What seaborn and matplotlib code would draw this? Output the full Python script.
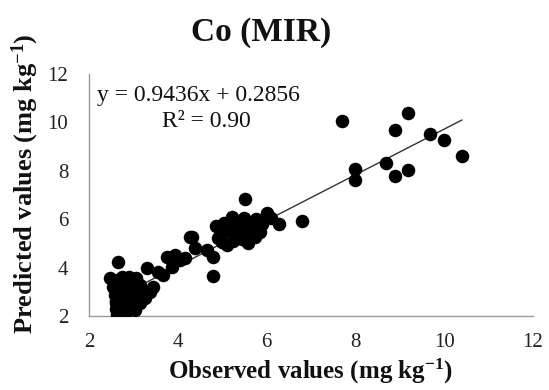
import matplotlib
matplotlib.use("Agg")
import matplotlib.pyplot as plt
import seaborn as sns
import pandas as pd
import numpy as np

# Observed / predicted values (mg kg-1)
observed = [
    2.62, 2.66, 2.70, 2.60, 2.75, 2.85, 2.95, 3.04, 2.68, 2.80, 2.90, 2.58, 2.72, 2.85,
    3.00, 3.10, 3.26, 2.62, 2.78, 2.92, 3.05, 3.20, 3.37, 2.70, 2.85, 3.00, 3.15, 3.44,
    2.47, 2.65, 2.89, 2.75, 3.05, 2.66, 3.30, 2.55, 2.60, 2.95, 2.80, 3.15,
    3.67, 3.75, 3.90, 4.05, 3.86, 3.94, 4.16, 4.27, 4.31, 4.39, 4.65, 4.80, 4.80, 3.55,
    4.87, 4.91, 5.10, 5.59, 5.85, 5.74, 5.21, 5.48, 5.51, 6.00, 6.28, 6.79, 5.00, 5.15,
    5.30, 5.40, 5.05, 5.25, 5.45, 5.60, 5.35, 5.65, 5.90, 5.50, 5.20, 5.00, 5.75, 6.10,
    7.70, 9.18, 8.90, 9.68, 9.99, 10.40, 8.70, 7.99, 7.99, 8.90, 9.18,
]
predicted = [
    2.04, 2.25, 2.40, 2.55, 2.20, 2.35, 2.45, 2.25, 2.70, 2.60, 2.75, 2.85, 2.95, 2.90,
    2.85, 2.70, 2.73, 3.10, 3.15, 3.05, 3.10, 3.00, 3.00, 3.30, 3.35, 3.40, 3.30, 3.21,
    3.56, 3.50, 3.63, 3.60, 3.55, 4.25, 3.97, 3.20, 2.30, 3.25, 2.10, 2.55,
    3.70, 4.45, 4.45, 4.31, 4.04, 4.52, 4.38, 5.28, 5.25, 4.80, 4.73, 4.45, 3.65, 3.80,
    5.70, 5.22, 4.94, 5.01, 5.49, 5.28, 6.11, 6.04, 6.84, 6.25, 5.79, 5.94, 5.45, 5.60,
    5.35, 5.70, 5.85, 5.10, 5.20, 5.55, 5.90, 5.75, 5.80, 5.40, 5.50, 5.05, 6.00, 6.05,
    10.06, 10.39, 9.67, 9.53, 9.27, 8.61, 8.33, 8.06, 7.62, 7.79, 8.03,
]
slope = 0.9436
intercept = 0.2856
r_squared = 0.90
x_ticks = [2, 4, 6, 8, 10, 12]
y_ticks = [2, 4, 6, 8, 10, 12]

sns.set_theme(style="white")
plt.rcParams["font.family"] = ["Liberation Serif", "DejaVu Serif"]
plt.rcParams["mathtext.fontset"] = "custom"
plt.rcParams["mathtext.rm"] = "Liberation Serif"
plt.rcParams["mathtext.bf"] = "Liberation Serif:bold"
plt.rcParams["mathtext.default"] = "bf"

df = pd.DataFrame({"Observed": observed, "Predicted": predicted})

W, H = 549, 390
fig = plt.figure(figsize=(W / 100, H / 100), dpi=100)
ax = fig.add_axes([89 / W, 1 - 316 / H, (533 - 89) / W, (316 - 74) / H])

sns.scatterplot(data=df, x="Observed", y="Predicted", ax=ax, color="black",
                s=95, edgecolor="black", linewidth=0, zorder=3)

xl = np.array([min(observed), max(observed)])
sns.lineplot(x=xl, y=slope * xl + intercept, ax=ax, color="#333333", linewidth=1.0, zorder=2)

ax.set_xlim(2, 12)
ax.set_ylim(2, 12)
ax.set_xticks(x_ticks)
ax.set_yticks(y_ticks)
ax.set_xticklabels([str(t) for t in x_ticks])
ax.set_yticklabels([str(t) for t in y_ticks])
for side in ["top", "right"]:
    ax.spines[side].set_visible(False)
for side in ["left", "bottom"]:
    ax.spines[side].set_color("#9a9a9a")
    ax.spines[side].set_linewidth(1.0)
ax.tick_params(axis="both", which="major", direction="out", length=5, width=1.0,
               color="#9a9a9a", labelsize=15, labelcolor="#222222")
ax.tick_params(axis="y", pad=10)
ax.tick_params(axis="x", pad=7)
ax.grid(False)
ax.set_xlabel("")
ax.set_ylabel("")

fig.text(311 / W, 1 - 379 / H, "Observed values (mg kg$^{-1}$)", ha="center",
         va="baseline", fontsize=18, fontweight="bold", color="#111111")
fig.text(25 / W, 1 - 184 / H, "Predicted values (mg kg$^{-1}$)", rotation=90,
         ha="center", va="center", fontsize=19, fontweight="bold", color="#111111")
fig.text(261 / W, 1 - 33 / H, "Co (MIR)", ha="center", va="center",
         fontsize=24, fontweight="bold", color="#111111")

ax.text(2.18, 11.13, f"y = {slope}x + {intercept}", fontsize=17, color="#111111",
        ha="left", va="center")
ax.text(4.64, 10.02, f"R² = {r_squared:.2f}", fontsize=17, color="#111111",
        ha="center", va="center")

fig.savefig("out.png", dpi=100)
